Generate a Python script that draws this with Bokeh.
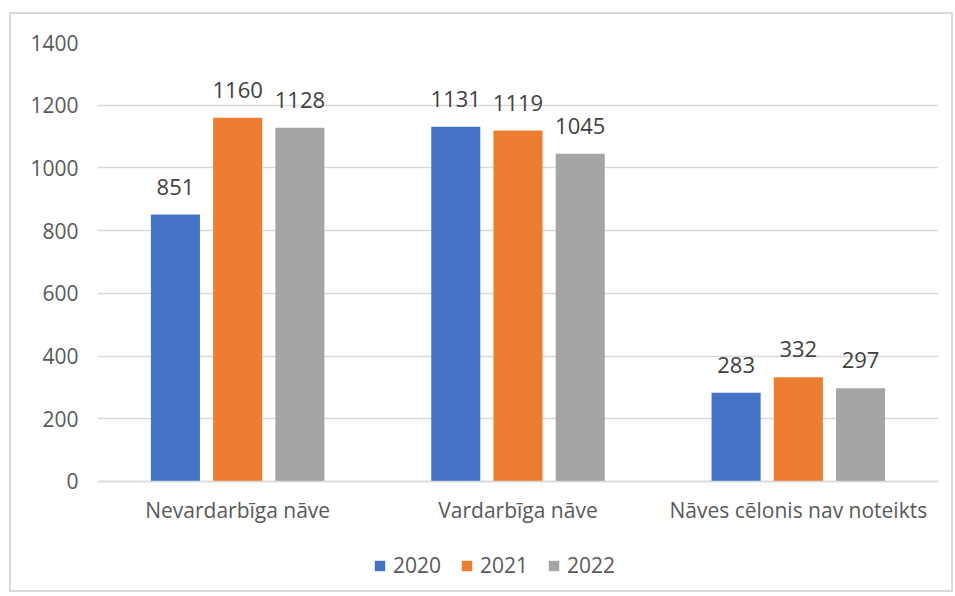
from bokeh.plotting import figure
from bokeh.models import ColumnDataSource, FactorRange, Range1d, FixedTicker, Legend, LegendItem
from bokeh.transform import dodge
from bokeh.core.properties import value
from bokeh.embed import file_html
from bokeh.resources import INLINE

categories = ["Nevardarbīga nāve", "Vardarbīga nāve", "Nāves cēlonis nav noteikts"]
years = ["2020", "2021", "2022"]
v2020 = [851, 1131, 283]
v2021 = [1160, 1119, 332]
v2022 = [1128, 1045, 297]
y_ticks = [0, 200, 400, 600, 800, 1000, 1200, 1400]

colors = ["#4472C4", "#ED7D31", "#A5A5A5"]
FONT = "Open Sans"

src = ColumnDataSource(dict(
    cats=categories,
    y2020=v2020, y2021=v2021, y2022=v2022,
    t2020=[str(v) for v in v2020],
    t2021=[str(v) for v in v2021],
    t2022=[str(v) for v in v2022],
))

# frame extends below zero so the category labels and legend sit inside it
p = figure(frame_width=841, frame_height=548, x_range=FactorRange(*categories),
           y_range=Range1d(-348, 1400), output_backend="svg", toolbar_location=None,
           min_border_left=86, min_border_right=13, min_border_top=28, min_border_bottom=0,
           margin=(12, 0, 0, 9),
           styles={"border": "2px solid #d9d9d9"})
p.outline_line_color = None
p.xgrid.grid_line_color = None
p.ygrid.grid_line_color = "#d9d9d9"
p.ygrid.grid_line_width = 1.5
p.yaxis.ticker = FixedTicker(ticks=y_ticks)
p.yaxis.axis_line_color = None
p.yaxis.major_tick_line_color = None
p.yaxis.minor_tick_line_color = None
p.yaxis.major_label_standoff = 13
p.yaxis.major_label_text_font = FONT
p.yaxis.major_label_text_font_size = "21px"
p.yaxis.major_label_text_color = "#595959"
p.xaxis.fixed_location = 0
p.xaxis.axis_line_color = "#d9d9d9"
p.xaxis.axis_line_width = 1.5
p.xaxis.major_tick_line_color = None
p.xaxis.major_label_standoff = 9
p.xaxis.major_label_text_font = FONT
p.xaxis.major_label_text_font_size = "21px"
p.xaxis.major_label_text_color = "#595959"

offsets = [-0.222, 0.0, 0.222]
renderers = []
for yr, col, off in zip(years, colors, offsets):
    r = p.vbar(x=dodge("cats", off, range=p.x_range), top="y" + yr, width=0.175,
               source=src, fill_color=col, line_color=None)
    renderers.append(r)
    p.text(x=dodge("cats", off, range=p.x_range), y="y" + yr, text="t" + yr, source=src,
           text_align="center", text_baseline="alphabetic", y_offset=-28,
           text_font=value(FONT), text_font_size="22px", text_color="#404040")

legend = Legend(items=[LegendItem(label=yr, renderers=[r]) for yr, r in zip(years, renderers)],
                orientation="horizontal", location=(276, 11),
                glyph_width=13, glyph_height=13, label_standoff=7, spacing=19,
                padding=0, margin=0, border_line_color=None, background_fill_alpha=0,
                label_text_font=FONT, label_text_font_size="21px", label_text_color="#595959")
p.add_layout(legend)

open("out.html", "w").write(file_html(p, INLINE))
